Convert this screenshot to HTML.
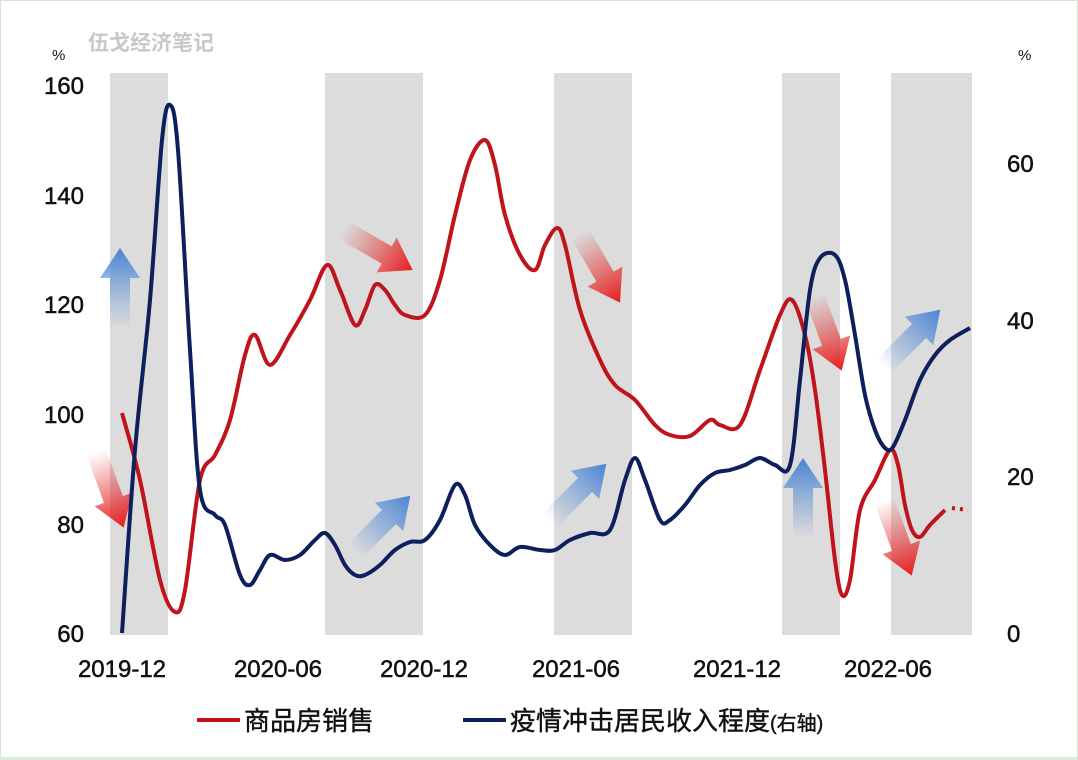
<!DOCTYPE html>
<html><head><meta charset="utf-8"><style>
html,body{margin:0;padding:0;background:#fff;}
body{width:1078px;height:760px;overflow:hidden;position:relative;font-family:"Liberation Sans","Noto Sans CJK SC",sans-serif;}
.frame{position:absolute;left:0;top:0;width:1076px;height:756px;border:1px solid #cfe8cf;border-bottom:3px solid #d8eed8;}
</style></head><body>
<div class="frame"></div>
<svg id="s" width="1078" height="760" style="position:absolute;left:0;top:0">
<defs>
<linearGradient id="gr" x1="0" y1="1" x2="0" y2="0"><stop offset="0" stop-color="#e03030" stop-opacity="0"/><stop offset="1" stop-color="#e81c1c"/></linearGradient>
<linearGradient id="gb" x1="0" y1="1" x2="0" y2="0"><stop offset="0" stop-color="#5b8fd6" stop-opacity="0"/><stop offset="1" stop-color="#4a84d4"/></linearGradient>
</defs>
<g fill="#dcdcdc">
<rect x="110" y="73" width="58" height="562"/><rect x="325" y="73" width="98" height="562"/><rect x="554" y="73" width="78" height="562"/><rect x="782" y="73" width="58" height="562"/><rect x="891" y="73" width="81" height="562"/>
</g>
<text x="88" y="50" font-size="21" font-weight="bold" fill="#c8c8c8" font-family="Liberation Sans,Noto Sans CJK SC,sans-serif">伍戈经济笔记</text>
<g font-size="15" fill="#111"><text x="52" y="60">%</text><text x="1018" y="60">%</text></g>
<g font-size="24" fill="#111" stroke="#111" stroke-width="0.5" text-anchor="end">
<text x="84" y="94">160</text><text x="84" y="204">140</text><text x="84" y="313">120</text><text x="84" y="423">100</text><text x="84" y="533">80</text><text x="84" y="642">60</text>
</g>
<g font-size="24" fill="#111" stroke="#111" stroke-width="0.5" text-anchor="start">
<text x="1007" y="172">60</text><text x="1007" y="329">40</text><text x="1007" y="485">20</text><text x="1007" y="642">0</text>
</g>
<g font-size="24" fill="#111" stroke="#111" stroke-width="0.5" text-anchor="middle">
<text x="122" y="677">2019-12</text><text x="278" y="677">2020-06</text><text x="424" y="677">2020-12</text><text x="576" y="677">2021-06</text><text x="737" y="677">2021-12</text><text x="888" y="677">2022-06</text>
</g>
<g id="arrows"></g>
<path id="red" fill="none" stroke="#c0141c" stroke-width="4"/>
<path d="M952,508 L968,510" stroke="#c0141c" stroke-width="4" stroke-dasharray="3,5"/>
<path id="blue" fill="none" stroke="#0d1f5c" stroke-width="4"/>
<line x1="197" y1="720" x2="240" y2="720" stroke="#c0141c" stroke-width="4"/>
<text x="244" y="730" font-size="26" fill="#111" stroke="#111" stroke-width="0.4">商品房销售</text>
<line x1="463" y1="720" x2="506" y2="720" stroke="#0d1f5c" stroke-width="4"/>
<text x="510" y="730" font-size="26" fill="#111" stroke="#111" stroke-width="0.4">疫情冲击居民收入程度<tspan font-size="20">(右轴)</tspan></text>
</svg>
<script>
function cr(p){let d="M"+p[0][0]+","+p[0][1];for(let i=0;i<p.length-1;i++){const a=p[i-1]||p[i],b=p[i],c=p[i+1],e=p[i+2]||c;
d+=" C"+(b[0]+(c[0]-a[0])/6).toFixed(1)+","+(b[1]+(c[1]-a[1])/6).toFixed(1)+" "+(c[0]-(e[0]-b[0])/6).toFixed(1)+","+(c[1]-(e[1]-b[1])/6).toFixed(1)+" "+c[0]+","+c[1];}return d;}
const R=[[122,413],[140,480],[160,580],[175,612],[185,590],[200,480],[215,455],[230,420],[245,355],[255,335],[270,365],[290,335],[310,300],[327,265],[340,290],[355,325],[365,310],[375,285],[385,290],[395,305],[405,315],[425,315],[440,280],[455,215],[470,160],[485,140],[495,165],[505,215],[520,255],[535,270],[545,245],[557,228],[565,245],[580,310],[600,360],[615,385],[635,400],[655,425],[670,435],[690,436],[710,420],[720,425],[740,425],[760,370],[780,315],[792,300],[805,335],[815,390],[825,470],[835,560],[842,595],[850,580],[860,510],[875,480],[890,450],[898,465],[905,505],[912,530],[920,537],[930,525],[945,510]];
const B=[[122,633],[135,450],[150,300],[162,140],[170,105],[178,150],[190,350],[200,490],[215,515],[225,525],[240,575],[250,585],[260,570],[270,555],[285,560],[300,555],[315,540],[325,533],[335,545],[345,565],[355,575],[365,575],[380,565],[395,550],[410,542],[425,540],[440,520],[455,485],[465,495],[475,525],[490,545],[505,555],[520,547],[540,550],[555,550],[570,540],[590,533],[610,530],[625,480],[635,458],[645,480],[660,520],[670,520],[685,505],[700,485],[715,473],[730,470],[745,465],[760,458],[775,465],[790,465],[800,380],[810,290],[820,258],[835,255],[845,280],[855,335],[865,395],[875,430],[885,448],[893,447],[905,420],[920,380],[935,355],[950,340],[970,328]];
document.getElementById("red").setAttribute("d",cr(R));
document.getElementById("blue").setAttribute("d",cr(B));
const A=[[110,490,160,"r"],[378,250,120,"r"],[600,268,150,"r"],[828,333,160,"r"],[898,538,160,"r"],[120,288,0,"b"],[382,524,45,"b"],[578,492,45,"b"],[803,498,0,"b"],[912,338,45,"b"]];
let h="";for(const [x,y,a,c] of A){h+='<polygon transform="translate('+x+','+y+') rotate('+a+')" points="-10,40 10,40 10,-10 20,-10 0,-40 -20,-10 -10,-10" fill="url(#g'+c+')"/>';}
document.getElementById("arrows").innerHTML=h;
</script>
</body></html>
